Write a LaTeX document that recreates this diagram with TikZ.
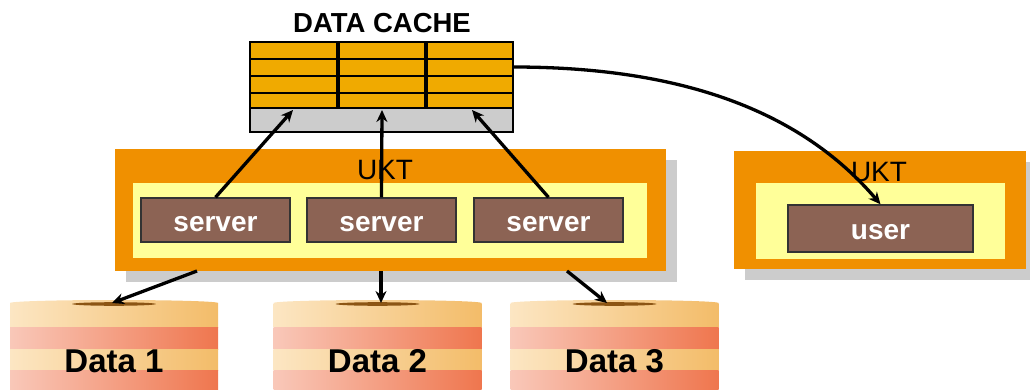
\documentclass[tikz,border=0pt]{standalone}
\usepackage{fontspec}
\setmainfont{Liberation Sans}
\usetikzlibrary{arrows.meta}

\definecolor{uktorange}{RGB}{240,144,0}
\definecolor{uktyellow}{RGB}{255,255,153}
\definecolor{srvbrown}{RGB}{140,99,84}
\definecolor{shadowgray}{RGB}{204,204,204}
\definecolor{cacheorange}{RGB}{240,170,0}
\definecolor{cachegray}{RGB}{204,204,204}
\definecolor{bandlightL}{RGB}{252,230,195}
\definecolor{bandlightR}{RGB}{243,188,105}
\definecolor{bandredL}{RGB}{249,200,185}
\definecolor{bandredR}{RGB}{239,118,78}
\definecolor{holebrown}{RGB}{140,85,20}

\begin{document}
\begin{tikzpicture}[x=1pt, y=-1pt,
  srvbox/.style={draw=black!80, line width=1.4pt, fill=srvbrown, text=white,
    minimum width=149pt, minimum height=44pt, inner sep=0pt,
    text height=22pt, text depth=0pt,
    font=\fontsize{28}{30}\selectfont\bfseries},
  link/.style={line width=3.3pt, -{Stealth[length=12pt,width=11pt]}}]

  \useasboundingbox (0,0) rectangle (1030,390);

  %% Data cache with its label.
  \fill[cacheorange] (250,42) rectangle (513,108);
  \fill[cachegray] (250,108) rectangle (513,132);
  \foreach \y in {59,76,93}
    \draw[line width=1.3pt] (250,\y) -- (513,\y);
  \draw[line width=1.5pt] (250,108) -- (513,108);
  \foreach \x in {338,426}
    \draw[line width=3.4pt] (\x,42) -- (\x,108);
  \draw[line width=2.2pt] (250,42) rectangle (513,132);
  \node[anchor=base, font=\fontsize{27.5}{30}\selectfont\bfseries] (cachelbl)
    at (382,33) {DATA CACHE};
  \coordinate (cin1) at (293,110);
  \coordinate (cin2) at (382,110);
  \coordinate (cin3) at (472,110);
  \coordinate (cout) at (513,67);


  %% Left UKT box with the servers.
  \fill[shadowgray] (126,160) rectangle (677,282);
  \node[fill=uktorange, minimum width=551pt, minimum height=122pt,
    inner sep=0pt] (ukt1) at (390.5,210) {};
  \fill[uktyellow] (133,183) rectangle (647,258);
  \node[anchor=base, font=\fontsize{28}{30}\selectfont] (ukt1lbl)
    at (385,180) {UKT};
  \node[srvbox] (s1) at (215.5,220) {server};
  \node[srvbox] (s2) at (381.5,220) {server};
  \node[srvbox] (s3) at (548.5,220) {server};


  %% Right UKT box with the user.
  \fill[shadowgray] (745,162) rectangle (1037,280);
  \node[fill=uktorange, minimum width=292pt, minimum height=118pt,
    inner sep=0pt] (ukt2) at (880,210) {};
  \fill[uktyellow] (756,183) rectangle (1005,259);
  \node[anchor=base, font=\fontsize{28}{30}\selectfont] (ukt2lbl)
    at (879,182) {UKT};
  \node[srvbox, minimum width=185pt, minimum height=47pt] (user)
    at (880.5,228.5) {user};


  %% Data disks.
  \foreach \c/\n in {114/1, 377.5/2, 614.5/3} {
    \shade[left color=bandlightL, right color=bandlightR]
      (\c-104,303) rectangle (\c+104,327);
    \shade[left color=bandredL, right color=bandredR]
      (\c-104,327) rectangle (\c+104,349);
    \shade[left color=bandlightL, right color=bandlightR]
      (\c-104,349) rectangle (\c+104,370);
    \shade[left color=bandredL, right color=bandredR]
      (\c-104,370) rectangle (\c+104,392);
    \shade[left color=bandlightL, right color=bandlightR]
      (\c,303) ellipse [x radius=104, y radius=3];
    \fill[holebrown] (\c,304) ellipse [x radius=42, y radius=1.8];
    \node[anchor=base, font=\fontsize{33}{35}\selectfont\bfseries] (d\n)
      at (\c,372) {Data \n};
  }
  \coordinate (din1) at (112,303);
  \coordinate (din2) at (381,303);
  \coordinate (din3) at (607,303);
  \coordinate (uout1) at (197,271);
  \coordinate (uout2) at (381,271);
  \coordinate (uout3) at (567,271);


  %% Arrows.
  \draw[link] (s1.north) -- (cin1);
  \draw[link] (s2.north) -- (cin2);
  \draw[link] (s3.north) -- (cin3);
  \draw[link] (uout1) -- (din1);
  \draw[link] (uout2) -- (din2);
  \draw[link] (uout3) -- (din3);
  \draw[link] (cout) .. controls (680,67) and (800,110) .. (user.north);

\end{tikzpicture}
\end{document}
